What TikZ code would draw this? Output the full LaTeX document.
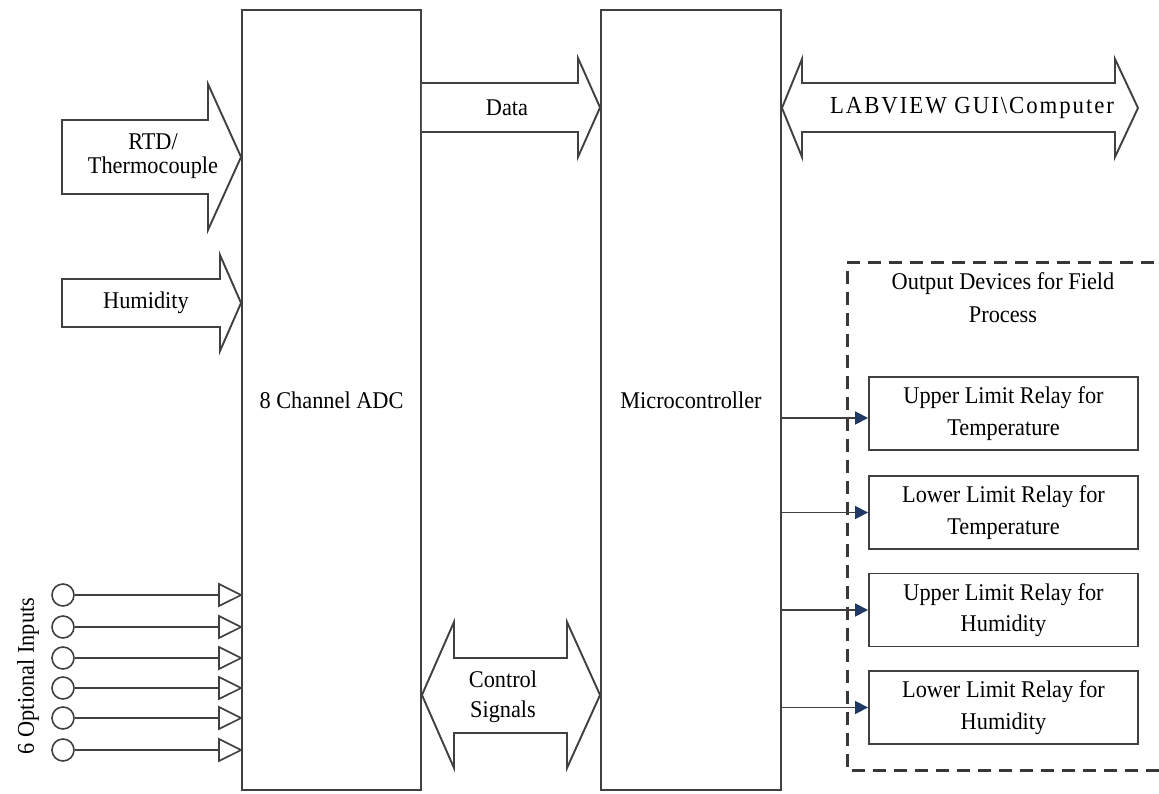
\documentclass[tikz,border=0pt]{standalone}
\usepackage{fontspec}
\setmainfont{Liberation Serif}[FakeStretch=0.93]
\usetikzlibrary{arrows.meta}
\definecolor{linegray}{HTML}{404040}
\definecolor{dashgray}{HTML}{383838}
\definecolor{tipblue}{HTML}{1F3864}
\begin{document}
\begin{tikzpicture}[x=1pt,y=-1pt,line join=miter,
  every node/.style={font=\fontsize{24}{31.5}\selectfont, align=center, inner sep=0pt, text=black},
  blk/.style={draw=linegray, line width=1.9pt},
  barrow/.style={draw=linegray, line width=1.9pt, fill=white},
  relay/.style={draw=linegray, line width=1.9pt, minimum width=269pt, minimum height=73pt},
  conn/.style={draw=linegray, line width=1.7pt, -{Triangle[length=13pt,width=13pt,color=tipblue]}},
  inwire/.style={draw=linegray, line width=1.6pt},
  incirc/.style={draw=linegray, line width=1.6pt, circle, minimum size=22pt},
  intri/.style={draw=linegray, line width=1.6pt, fill=white},
  grp/.style={draw=dashgray, line width=3pt, dash pattern=on 13pt off 8pt}]
\useasboundingbox (0,0) rectangle (1159,794);

% main blocks
\node[blk, minimum width=179pt, minimum height=780pt] (adc) at (331.5,400) {8 Channel ADC};
\node[blk, minimum width=180pt, minimum height=780pt] (mc) at (691,400) {Microcontroller};

% RTD / Thermocouple block arrow
\draw[barrow] (62,120) -- (208,120) -- (208,84) -- (adc.west |- 0,157) -- (208,230) -- (208,194) -- (62,194) -- cycle;
\node[font=\fontsize{24}{24}\selectfont] (rtd) at (153,156) {RTD/\\Thermocouple};

% Humidity block arrow
\draw[barrow] (62,279) -- (220,279) -- (220,255) -- (adc.west |- 0,303) -- (220,351) -- (220,327) -- (62,327) -- cycle;
\node (hum) at (146,303) {Humidity};

% Data block arrow
\draw[barrow] (adc.east |- 0,83) -- (578,83) -- (578,58) -- (mc.west |- 0,107.5) -- (578,157) -- (578,132) -- (adc.east |- 0,132);
\node (data) at (507,108) {Data};

% LABVIEW double block arrow
\draw[barrow] (mc.east |- 0,108) -- (802,59) -- (802,83) -- (1115,83) -- (1115,59) -- (1138,108) -- (1115,157) -- (1115,132) -- (802,132) -- (802,157) -- cycle;
\node[font=\fontsize{24.5}{30}\selectfont\addfontfeatures{LetterSpace=8}] (gui) at (972,108) {LABVIEW GUI\textbackslash Computer};

% Control signals double block arrow
\draw[barrow] (adc.east |- 0,695) -- (454,622) -- (454,658) -- (567,658) -- (567,622) -- (mc.west |- 0,695) -- (567,768) -- (567,733) -- (454,733) -- (454,768) -- cycle;
\node[font=\fontsize{24}{30}\selectfont] (ctrl) at (503,697) {Control\\Signals};

% optional inputs
\foreach \i/\y in {1/595,2/627,3/658,4/688,5/718,6/750}{
  \node[incirc] (c\i) at (63,\y) {};
  \coordinate (t\i) at (219,\y);
  \draw[inwire] (c\i) -- (t\i);
  \draw[intri] (219,\y-11) -- (adc.west |- 0,\y) -- (219,\y+11) -- cycle;
}
\node[rotate=90] (opt) at (28,676) {6 Optional Inputs};

% output devices group
\draw[grp] (1175,263) -- (847,263) -- (847,770) -- (1175,770);
\node[font=\fontsize{24}{33}\selectfont] (title) at (1003,298) {Output Devices for Field\\Process};

\node[relay] (r1) at (1003.5,413.5) {Upper Limit Relay for\\Temperature};
\node[relay] (r2) at (1003.5,512.5) {Lower Limit Relay for\\Temperature};
\node[relay] (r3) at (1003.5,610) {Upper Limit Relay for\\Humidity};
\node[relay] (r4) at (1003.5,707.5) {Lower Limit Relay for\\Humidity};

\draw[conn] ([yshift=-4.5pt]mc.east |- r1.west) -- ([yshift=-4.5pt]r1.west);
\draw[conn] (mc.east |- r2.west) -- (r2.west);
\draw[conn] (mc.east |- r3.west) -- (r3.west);
\draw[conn] (mc.east |- r4.west) -- (r4.west);
\end{tikzpicture}
\end{document}
